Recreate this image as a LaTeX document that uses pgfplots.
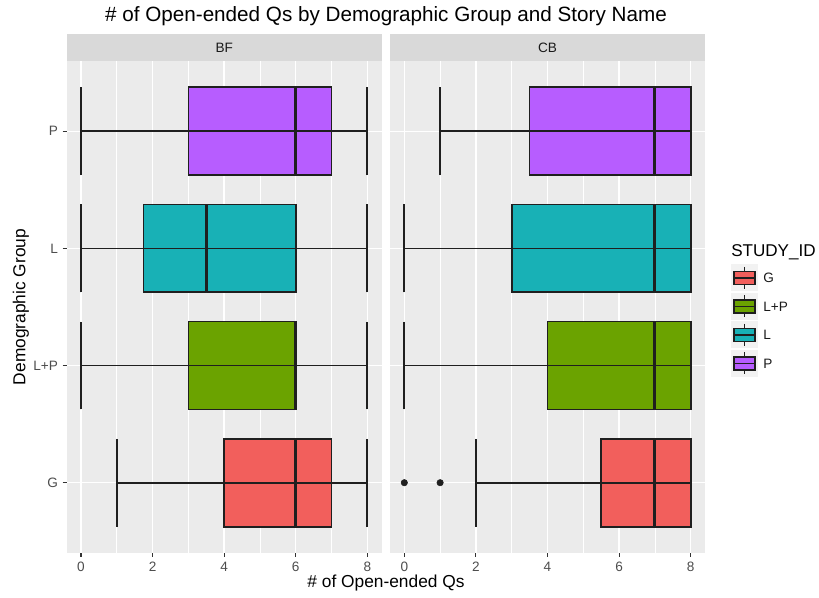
\documentclass[border=0pt]{standalone}
\usepackage{fontspec}
\setmainfont{Liberation Sans}
\usepackage{pgfplots}
\pgfplotsset{compat=1.18}
\usepgfplotslibrary{statistics}

\definecolor{panelbg}{HTML}{EBEBEB}
\definecolor{stripbg}{HTML}{D9D9D9}
\definecolor{striptext}{HTML}{1A1A1A}
\definecolor{ticktext}{HTML}{4D4D4D}
\definecolor{tickdark}{HTML}{333333}
\definecolor{boxline}{HTML}{1F1F1F}
\definecolor{keybg}{HTML}{F2F2F2}
\definecolor{colG}{HTML}{F25F5C}
\definecolor{colLP}{HTML}{6BA300}
\definecolor{colL}{HTML}{18B1B6}
\definecolor{colP}{HTML}{B75DFF}

\pgfplotsset{
  facet/.style={
    scale only axis, width=236.25pt, height=369pt,
    xmin=-0.4, xmax=8.4, ymin=0.4, ymax=4.6,
    axis background/.style={fill=panelbg},
    axis line style={draw=none},
    xtick={0,2,4,6,8}, minor xtick={1,3,5,7},
    ytick={1,2,3,4},
    grid=both,
    major grid style={white, line width=1.1pt},
    minor grid style={white, line width=0.55pt},
    tick align=outside, tick pos=left,
    major tick length=3pt, minor tick length=0pt,
    tick style={tickdark, line width=0.8pt},
    /pgf/number format/assume math mode=true,
    ticklabel style={font=\fontsize{10.2}{12}\selectfont, text=ticktext},
    boxplot/every median/.style={line width=2.2pt},
  }
}

\newcommand{\bx}[7]{%
  \addplot[boxplot prepared={draw position=#1, lower whisker=#2, lower quartile=#3,
      median=#4, upper quartile=#5, upper whisker=#6, box extend=0.75, whisker extend=0.75},
      fill=#7, draw=boxline, line width=1.3pt] coordinates {};
  \addplot[draw=boxline, line width=1.3pt, mark=none] coordinates {(#2,#1) (#6,#1)};
}

\newcommand{\keyglyph}[3]{%
  \fill[keybg] (731,{#2-13.5}) rectangle (758,{#2+13.5});
  \draw[boxline, line width=0.9pt] (744.5,{#2-11}) -- (744.5,{#2+11});
  \filldraw[fill=#1, draw=boxline, line width=0.9pt] (734,{#2-6.5}) rectangle (755,{#2+6.5});
  \draw[boxline, line width=1.4pt] (734,#2) -- (755,#2);
  \node[anchor=west, inner sep=0pt, font=\fontsize{10.2}{12}\selectfont, text=striptext] at (763,#2) {#3};
}

\begin{document}
\begin{tikzpicture}
\useasboundingbox (0,0) rectangle (614.25pt,448.5pt);

\begin{axis}[facet, name=bf, at={(50.0pt,33.75pt)}, anchor=south west,
    yticklabels={G, L+P, L, P}]
  \bx{4}{0}{3}{6}{7}{8}{colP}
  \bx{3}{0}{1.75}{3.5}{6}{8}{colL}
  \bx{2}{0}{3}{6}{6}{8}{colLP}
  \bx{1}{1}{4}{6}{7}{8}{colG}
\end{axis}

\begin{axis}[facet, name=cb, at={(292.5pt,33.75pt)}, anchor=south west,
    yticklabels={}, ytick style={draw=none}]
  \bx{4}{1}{3.5}{7}{8}{8}{colP}
  \bx{3}{0}{3}{7}{8}{8}{colL}
  \bx{2}{0}{4}{7}{8}{8}{colLP}
  \bx{1}{2}{5.5}{7}{8}{8}{colG}
  \addplot[only marks, mark=*, mark size=2.4pt, mark options={fill=boxline, draw=boxline}]
    coordinates {(0,1) (1,1)};
\end{axis}

\begin{scope}[x=0.75pt, y=-0.75pt, yshift=448.5pt]
  % strips
  \fill[stripbg] (66.7,34) rectangle (381.7,61);
  \fill[stripbg] (390,34) rectangle (705,61);
  \node[font=\fontsize{10.2}{12}\selectfont, text=striptext] at (224.2,47.5) {BF};
  \node[font=\fontsize{10.2}{12}\selectfont, text=striptext] at (547.5,47.5) {CB};
  % title
  \node[anchor=base, inner sep=0pt, font=\fontsize{15.5}{18}\selectfont] at (386,21.5)
    {\# of Open-ended Qs by Demographic Group and Story Name};
  % axis titles
  \node[anchor=base, inner sep=0pt, font=\fontsize{13}{15}\selectfont] at (386,588)
    {\# of Open-ended Qs};
  \node[rotate=90, inner sep=0pt, font=\fontsize{13}{15}\selectfont] at (21,307)
    {Demographic Group};
  % legend
  \node[anchor=base west, inner sep=0pt, font=\fontsize{12.8}{15}\selectfont] at (731,257)
    {STUDY\_ID};
  \keyglyph{colG}{278}{G}
  \keyglyph{colLP}{306.5}{L+P}
  \keyglyph{colL}{335}{L}
  \keyglyph{colP}{363.5}{P}
\end{scope}
\end{tikzpicture}
\end{document}
